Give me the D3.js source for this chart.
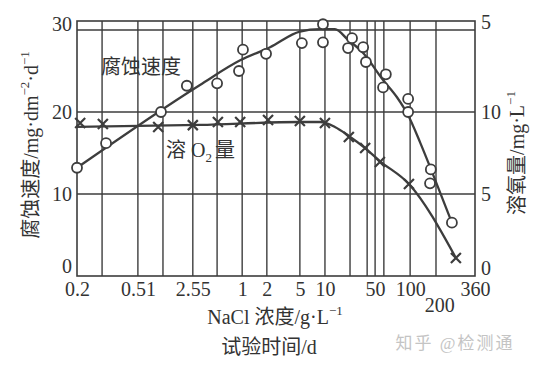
<!DOCTYPE html>
<html>
<head>
<meta charset="utf-8">
<script src="https://cdn.jsdelivr.net/npm/d3@7"></script>
<style>
  body { margin: 0; background: #fff; }
  text { font-family: "Liberation Serif", "Noto Sans CJK SC", serif; fill: #333; }
</style>
</head>
<body>
<div id="canvas"></div>
<script>
// chart size and plot frame
const width = 545, height = 369;
const margin = { left: 77, right: 70, top: 21, bottom: 93 };

// x axis is not a real numeric axis, positions are in 0..100 units along the frame
const xGrid = [6.3, 15.3, 21.6, 29.1, 35.2, 41.5, 47.7, 56.0, 62.3, 68.6, 72.9, 74.9, 77.1, 83.7, 90.2];
const xTickPos = [0, 15.3, 29.1, 41.5, 47.7, 56.0, 62.3, 74.9, 83.7, 91.0, 100];
const xTickLabels = ["0.2", "0.51", "2.55", "1", "2", "5", "10", "50", "100", "200", "360"];
const xTickRow = [0, 0, 0, 0, 0, 0, 0, 0, 0, 1, 0];

const yLeftTicks = [0, 10, 20, 30];
const yRightTicks = [0, 5, 10, 15];
const yRightLabels = ["0", "5", "10", "5"];

// corrosion rate, mg/dm2/d (circles)
const rateX = [0, 7.3, 21.1, 27.6, 35.2, 40.7, 41.7, 47.5, 56.5, 61.8, 61.8, 68.1, 69.1, 71.9, 72.6, 77.6, 76.9, 83.2, 83.2, 88.9, 88.7, 94.2];
const rateY = [13.2, 16.2, 20.0, 23.2, 23.5, 25.0, 27.6, 27.1, 28.4, 28.5, 30.7, 27.8, 29.0, 27.9, 26.1, 24.6, 23.0, 21.6, 20.0, 13.0, 11.3, 6.5];
// fitted curve for the rate
const rateCurveX = [0, 30.9, 41.0, 48.5, 56.0, 61.1, 64.8, 68.1, 71.9, 76.9, 80.4, 83.2, 86.2, 89.2, 94.2];
const rateCurveY = [13.2, 23.3, 26.3, 27.9, 29.8, 30.1, 30.1, 28.8, 27.2, 23.9, 21.8, 19.6, 16.3, 12.7, 6.5];

// dissolved oxygen, mg/L (crosses)
const oxyX = [0.8, 6.5, 20.4, 29.1, 35.4, 41.0, 48.0, 56.0, 62.3, 68.3, 72.4, 76.1, 83.4, 95.2];
const oxyY = [9.33, 9.27, 9.09, 9.2, 9.39, 9.39, 9.51, 9.45, 9.33, 8.48, 7.80, 6.95, 5.61, 1.10];
const oxyCurveX = [0, 30.9, 56.0, 61.1, 64.8, 68.3, 72.4, 76.1, 83.4, 95.2];
const oxyCurveY = [9.09, 9.21, 9.39, 9.39, 9.09, 8.54, 7.80, 7.01, 5.61, 1.10];

const lineColor = "#3d3d3d";

const svg = d3.select("#canvas")
    .append("svg")
    .attr("width", width)
    .attr("height", height)
    .style("background-color", "#fff");

const plotBottom = height - margin.bottom;   // 276
const plotRight = width - margin.right;      // 475

const xScale = d3.scaleLinear().domain([0, 100]).range([margin.left, plotRight]);
const yLeft = d3.scaleLinear().domain([0, 30]).range([plotBottom, 30]);
const yRight = d3.scaleLinear().domain([0, 15]).range([plotBottom, 30]);

// grid
const grid = svg.append("g").attr("stroke", lineColor).attr("stroke-width", 1.4);
grid.selectAll("line.v")
    .data(xGrid)
    .join("line")
    .attr("class", "v")
    .attr("x1", d => xScale(d)).attr("x2", d => xScale(d))
    .attr("y1", margin.top).attr("y2", plotBottom);
grid.selectAll("line.h")
    .data([10, 20, 30])
    .join("line")
    .attr("class", "h")
    .attr("x1", margin.left).attr("x2", plotRight)
    .attr("y1", d => yLeft(d)).attr("y2", d => yLeft(d));
svg.append("rect")
    .attr("x", margin.left).attr("y", margin.top)
    .attr("width", plotRight - margin.left)
    .attr("height", plotBottom - margin.top)
    .attr("fill", "none")
    .attr("stroke", lineColor)
    .attr("stroke-width", 1.6);

// axes (labels only, the frame is drawn above)
const xAxis = svg.append("g")
    .attr("transform", `translate(0,${plotBottom})`)
    .call(d3.axisBottom(xScale)
        .tickValues(xTickPos)
        .tickFormat((d, i) => xTickLabels[i])
        .tickSize(0)
        .tickPadding(6));
xAxis.selectAll("text")
    .attr("font-size", 20)
    .attr("dy", (d, i) => xTickRow[i] ? "1.5em" : "0.71em");

const leftAxis = svg.append("g")
    .attr("transform", `translate(${margin.left},0)`)
    .call(d3.axisLeft(yLeft).tickValues(yLeftTicks).tickSize(0).tickPadding(5));
leftAxis.selectAll("text")
    .attr("font-size", 20)
    .attr("dy", d => d == 0 ? "-0.2em" : d == 30 ? "0em" : "0.32em");

const rightAxis = svg.append("g")
    .attr("transform", `translate(${plotRight},0)`)
    .call(d3.axisRight(yRight).tickValues(yRightTicks)
        .tickFormat((d, i) => yRightLabels[i])
        .tickSize(0).tickPadding(6));
rightAxis.selectAll("text")
    .attr("font-size", 20)
    .attr("dy", d => (d == 0 || d == 15) ? "-0.1em" : "0.32em");

svg.selectAll(".domain").remove();

// curves
const line = d3.line()
    .x(d => xScale(d[0]))
    .curve(d3.curveMonotoneX);

svg.append("path")
    .datum(d3.zip(rateCurveX, rateCurveY))
    .attr("d", line.y(d => yLeft(d[1])))
    .attr("fill", "none")
    .attr("stroke", lineColor)
    .attr("stroke-width", 2.3);

svg.append("path")
    .datum(d3.zip(oxyCurveX, oxyCurveY))
    .attr("d", line.y(d => yRight(d[1])))
    .attr("fill", "none")
    .attr("stroke", lineColor)
    .attr("stroke-width", 2.3);

// crosses
const s = 5;
svg.append("g")
    .selectAll("path")
    .data(d3.zip(oxyX, oxyY))
    .join("path")
    .attr("transform", d => `translate(${xScale(d[0])},${yRight(d[1])})`)
    .attr("d", `M${-s},${-s}L${s},${s}M${-s},${s}L${s},${-s}`)
    .attr("stroke", lineColor)
    .attr("stroke-width", 2.2);

// circles
svg.append("g")
    .selectAll("circle")
    .data(d3.zip(rateX, rateY))
    .join("circle")
    .attr("cx", d => xScale(d[0]))
    .attr("cy", d => yLeft(d[1]))
    .attr("r", 5)
    .attr("fill", "#fff")
    .attr("stroke", lineColor)
    .attr("stroke-width", 1.8);

// labels in the plot
svg.append("text")
    .attr("x", 141).attr("y", 74)
    .attr("text-anchor", "middle")
    .attr("font-size", 20)
    .text("腐蚀速度");

const o2 = svg.append("text")
    .attr("x", 166).attr("y", 157)
    .attr("font-size", 20);
o2.append("tspan").text("溶 O");
o2.append("tspan").attr("font-size", 13).attr("dy", 5).text("2");
o2.append("tspan").attr("dy", -5).attr("dx", 3).text("量");

// axis titles
const leftTitle = svg.append("text")
    .attr("transform", "translate(38,145) rotate(-90)")
    .attr("text-anchor", "middle")
    .attr("font-size", 20);
leftTitle.append("tspan").text("腐蚀速度/mg·dm");
leftTitle.append("tspan").attr("font-size", 13).attr("dy", -9).text("−2");
leftTitle.append("tspan").attr("dy", 9).text("·d");
leftTitle.append("tspan").attr("font-size", 13).attr("dy", -9).text("−1");

const rightTitle = svg.append("text")
    .attr("transform", "translate(524,153) rotate(-90)")
    .attr("text-anchor", "middle")
    .attr("font-size", 20);
rightTitle.append("tspan").text("溶氧量/mg·L");
rightTitle.append("tspan").attr("font-size", 13).attr("dy", -9).text("−1");

const xTitle = svg.append("text")
    .attr("x", 275).attr("y", 324)
    .attr("text-anchor", "middle")
    .attr("font-size", 20);
xTitle.append("tspan").text("NaCl 浓度/g·L");
xTitle.append("tspan").attr("font-size", 13).attr("dy", -9).text("−1");

svg.append("text")
    .attr("x", 269).attr("y", 354)
    .attr("text-anchor", "middle")
    .attr("font-size", 20)
    .text("试验时间/d");

// watermark
svg.append("text")
    .attr("x", 455).attr("y", 349)
    .attr("text-anchor", "middle")
    .attr("font-size", 17)
    .attr("letter-spacing", 2)
    .style("fill", "#c4c4c4")
    .text("知乎 @检测通");
</script>
</body>
</html>
